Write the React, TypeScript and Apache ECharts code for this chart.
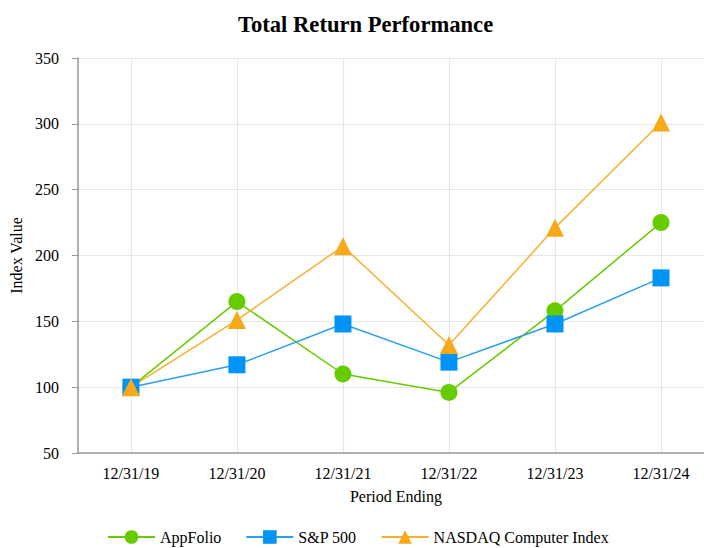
import React, { useEffect, useRef } from "react";
import * as echarts from "echarts";

const categories = ["12/31/19", "12/31/20", "12/31/21", "12/31/22", "12/31/23", "12/31/24"];
const appFolio = [100, 165, 110, 96, 158, 225];
const sp500 = [100, 117, 148, 119, 148, 183];
const nasdaq = [100, 151, 207, 132, 221, 301];
const yTicks = { min: 50, max: 350, interval: 50 };

const FONT = "'Liberation Serif', 'Times New Roman', serif";

export default function App() {
  const ref = useRef<HTMLDivElement>(null);
  useEffect(() => {
    const chart = echarts.init(ref.current!, null, { renderer: "svg" });
    chart.setOption({
      animation: false,
      textStyle: { fontFamily: FONT },
      title: {
        text: "Total Return Performance",
        left: 233,
        top: 8,
        textStyle: { fontFamily: FONT, fontSize: 22.6, fontWeight: "bold", color: "#000" },
      },
      grid: { left: 75, top: 58, width: 639, height: 395 },
      legend: {
        bottom: -2,
        left: 102,
        itemWidth: 47,
        itemHeight: 17,
        itemGap: 24,
        textStyle: { fontFamily: FONT, fontSize: 16, color: "#000" },
        data: ["AppFolio", "S&P 500", "NASDAQ Computer Index"],
      },
      xAxis: {
        type: "category",
        data: categories,
        boundaryGap: true,
        name: "Period Ending",
        nameLocation: "middle",
        nameGap: 35,
        nameTextStyle: { fontFamily: FONT, fontSize: 16, color: "#000" },
        axisLine: { lineStyle: { color: "#999", width: 1.5 } },
        axisTick: { alignWithLabel: true, length: 6, lineStyle: { color: "#999" } },
        axisLabel: { fontFamily: FONT, fontSize: 16, color: "#000", margin: 12 },
        splitLine: { show: true, alignWithLabel: true, lineStyle: { color: "#e6e6e6", width: 1.2 } },
      },
      yAxis: {
        type: "value",
        min: yTicks.min,
        max: yTicks.max,
        interval: yTicks.interval,
        name: "Index Value",
        nameLocation: "middle",
        nameGap: 52,
        nameTextStyle: { fontFamily: FONT, fontSize: 16, color: "#000" },
        axisLine: { show: true, lineStyle: { color: "#999", width: 1.5 } },
        axisTick: { show: true, length: 6, lineStyle: { color: "#999" } },
        axisLabel: { fontFamily: FONT, fontSize: 16, color: "#000", margin: 19 },
        splitLine: { show: true, lineStyle: { color: "#e6e6e6", width: 1.2 } },
      },
      series: [
        {
          name: "AppFolio",
          type: "line",
          data: appFolio,
          symbol: "circle",
          symbolSize: 17,
          itemStyle: { color: "#66cc00" },
          lineStyle: { color: "#66cc00", width: 1.5 },
        },
        {
          name: "S&P 500",
          type: "line",
          data: sp500,
          symbol: "rect",
          symbolSize: 17,
          itemStyle: { color: "#0094f7" },
          lineStyle: { color: "#2a9ff0", width: 1.5 },
        },
        {
          name: "NASDAQ Computer Index",
          type: "line",
          data: nasdaq,
          symbol: "triangle",
          symbolSize: 18,
          itemStyle: { color: "#f8a818" },
          lineStyle: { color: "#f8b030", width: 1.5 },
        },
      ],
    });
    return () => chart.dispose();
  }, []);
  return (
    <div style={{ width: 704, height: 548, position: "absolute", left: 0, top: 0, overflow: "hidden" }}>
      <div ref={ref} style={{ width: 730, height: 548 }} />
    </div>
  );
}
